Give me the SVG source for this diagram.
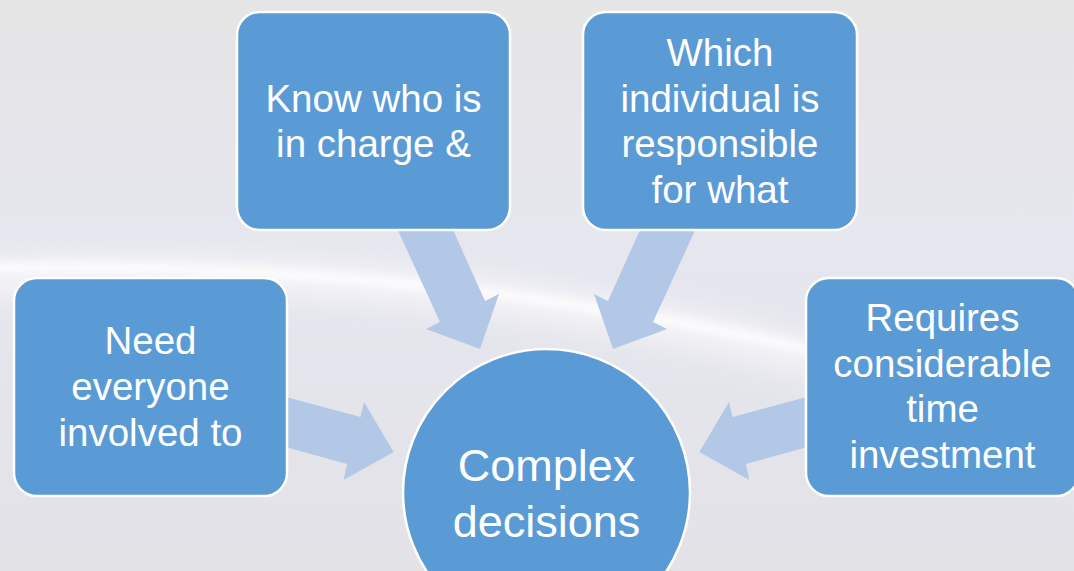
<svg xmlns="http://www.w3.org/2000/svg" width="1074" height="571" viewBox="0 0 1074 571">
<style>
.box{fill:#5b9bd5;stroke:#ffffff;stroke-width:2.5}
.arrow{fill:#b3c8e6}
.t{font-family:"Liberation Sans",Arial,sans-serif;fill:#ffffff;text-anchor:middle}
.tb{font-size:38.5px}
.tc{font-size:45px}
</style>
<defs>
<linearGradient id="bg" x1="0" y1="0" x2="0" y2="1">
<stop offset="0" stop-color="#e5e5e6"/>
<stop offset="0.45" stop-color="#e6e6ef"/>
<stop offset="1" stop-color="#e2e2e7"/>
</linearGradient>
<filter id="blur" x="-10%" y="-50%" width="120%" height="200%"><feGaussianBlur stdDeviation="5"/></filter>
<filter id="blur2" x="-10%" y="-50%" width="120%" height="200%"><feGaussianBlur stdDeviation="14"/></filter>
</defs>
<rect width="1074" height="571" fill="url(#bg)"/>
<g id="glow">
<path d="M-30 280 Q 420 255 820 360" fill="none" stroke="#ffffff" stroke-width="36" opacity="0.55" filter="url(#blur2)"/>
<path d="M-30 268 Q 420 258 820 352" fill="none" stroke="#ffffff" stroke-width="10" opacity="0.9" filter="url(#blur)"/>
</g>
<g id="connectors">
<polygon class="arrow" points="384,200 440,322 426,329 480,349 499,294 485,301 439.5,200"/>
<polygon class="arrow" points="709,200 653,322 667,329 613,349 594,294 608,301 653.5,200"/>
<polygon class="arrow" points="260,390 360.5,417 364,402 393.6,452 343.7,480 347,464 260,440"/>
<polygon class="arrow" points="833,390 732.5,417 729,402 699.4,452 749.3,480 746,464 833,440"/>
</g>
<g id="node-center">
<circle class="box" cx="546.5" cy="492.5" r="143.5"/>
<text class="t tc" x="546.5" y="481">Complex</text>
<text class="t tc" x="546.5" y="537">decisions</text>
</g>
<g id="node-top-left">
<rect class="box" x="237" y="12" width="273" height="218" rx="23"/>
<text class="t tb" x="373.5" y="112">Know who is</text>
<text class="t tb" x="373.5" y="157">in charge &amp;</text>
</g>
<g id="node-top-right">
<rect class="box" x="583" y="12" width="274" height="218" rx="23"/>
<text class="t tb" x="720" y="66">Which</text>
<text class="t tb" x="720" y="112">individual is</text>
<text class="t tb" x="720" y="157">responsible</text>
<text class="t tb" x="720" y="203">for what</text>
</g>
<g id="node-left">
<rect class="box" x="14" y="278" width="273" height="218" rx="23"/>
<text class="t tb" x="150.5" y="354">Need</text>
<text class="t tb" x="150.5" y="400">everyone</text>
<text class="t tb" x="150.5" y="446">involved to</text>
</g>
<g id="node-right">
<rect class="box" x="806" y="278" width="273" height="218" rx="23"/>
<text class="t tb" x="942.5" y="331">Requires</text>
<text class="t tb" x="942.5" y="377">considerable</text>
<text class="t tb" x="942.5" y="422">time</text>
<text class="t tb" x="942.5" y="468">investment</text>
</g>
</svg>
